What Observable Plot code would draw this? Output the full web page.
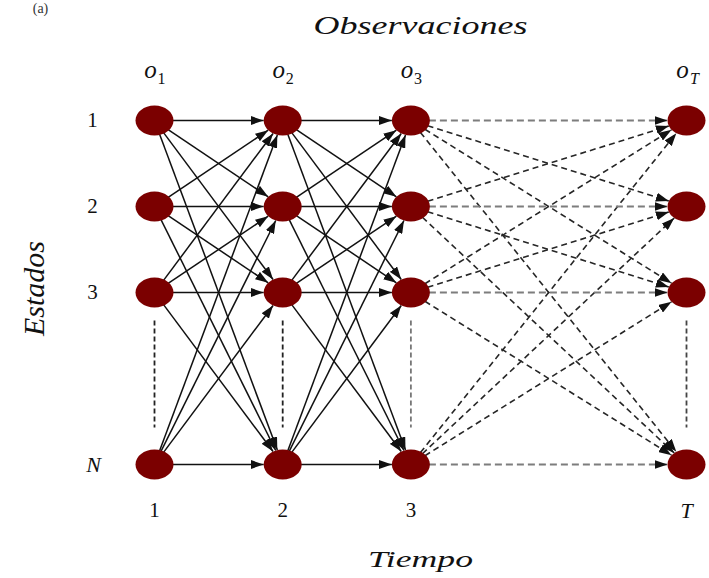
<!DOCTYPE html>
<html>
<head>
<meta charset="utf-8">
<script src="https://cdn.jsdelivr.net/npm/d3@7"></script>
<script src="https://cdn.jsdelivr.net/npm/@observablehq/plot@0.6"></script>
<style>
  html, body { margin: 0; padding: 0; background: #fff; }
</style>
</head>
<body>
<div id="chart"></div>
<script>
// ---- data ----
const timeLabels = ["1", "2", "3", "T"];        // bottom labels (time steps)
const timePos    = [1, 2, 3, 5.15];             // position of each time step (gap = omitted steps)
const stateLabels = ["1", "2", "3", "N"];       // left labels (states)
const statePos    = [1, 2, 3, 5];               // position of each state (gap = omitted states)
const obsSubs     = ["1", "2", "3", "T"];       // subscripts of o_t
const titleTop = "Observaciones";
const titleBottom = "Tiempo";
const titleLeft = "Estados";
const panelTag = "(a)";

// ---- layout ----
const W = 709, H = 578;
const mL = 154, mR = 23, mT = 120, mB = 114;
const RX = 19, RY = 15;           // node ellipse radii (px)
const serif = "'Liberation Serif', 'Times New Roman', serif";

const [x0, x1] = d3.extent(timePos);
const [y0, y1] = d3.extent(statePos);
const kx = (W - mL - mR) / (x1 - x0);
const ky = (H - mT - mB) / (y1 - y0);

// ellipse boundary distance along unit vector
const rEll = (ux, uy) => 1 / Math.hypot(ux / RX, uy / RY);

// shorten a segment (data coords) by pixel insets at both ends
function seg(ax, ay, bx, by, inStart, inEnd) {
  const dx = (bx - ax) * kx, dy = (by - ay) * ky;
  const L = Math.hypot(dx, dy), ux = dx / L, uy = dy / L;
  const s = typeof inStart === "function" ? inStart(ux, uy) : inStart;
  const e = typeof inEnd === "function" ? inEnd(ux, uy) : inEnd;
  return {
    x1: ax + ux * s / kx, y1: ay + uy * s / ky,
    x2: bx - ux * e / kx, y2: by - uy * e / ky
  };
}

// transitions between consecutive time columns
const edges = [];
for (let c = 0; c < timePos.length - 1; ++c) {
  for (let i = 0; i < statePos.length; ++i) {
    for (let j = 0; j < statePos.length; ++j) {
      const s = seg(timePos[c], statePos[i], timePos[c + 1], statePos[j],
                    (ux, uy) => rEll(ux, uy) - 1, (ux, uy) => rEll(ux, uy));
      edges.push({...s, dashed: c === timePos.length - 2, horiz: i === j});
    }
  }
}

// vertical ellipsis lines between state 3 and N
const vColors = ["#222", "#222", "#777", "#444"];
const vlines = timePos.map((x, k) => {
  const s = seg(x, statePos[2], x, statePos[3], 28, 37);
  return {...s, stroke: vColors[k]};
});

// nodes
const nodes = [];
timePos.forEach(x => statePos.forEach(y => nodes.push({x, y})));

// custom ellipse symbol
const ellipse = {
  draw(ctx, size) {
    const r = Math.sqrt(size / Math.PI);
    const rx = r * RX / 17, ry = r * RY / 17, k = 0.5523;
    ctx.moveTo(rx, 0);
    ctx.bezierCurveTo(rx, ry * k, rx * k, ry, 0, ry);
    ctx.bezierCurveTo(-rx * k, ry, -rx, ry * k, -rx, 0);
    ctx.bezierCurveTo(-rx, -ry * k, -rx * k, -ry, 0, -ry);
    ctx.bezierCurveTo(rx * k, -ry, rx, -ry * k, rx, 0);
    ctx.closePath();
  }
};

const isDigit = s => /^\d+$/.test(s);
const stateData = stateLabels.map((label, i) => ({label, y: statePos[i]}));
const timeData = timeLabels.map((label, i) => ({label, x: timePos[i]}));
const obsData = obsSubs.map((sub, i) => ({sub, x: timePos[i]}));

const txt = {fill: "#111", lineAnchor: "middle", fontFamily: serif};

const plot = Plot.plot({
  width: W, height: H,
  marginLeft: mL, marginRight: mR, marginTop: mT, marginBottom: mB,
  x: {domain: [x0, x1], axis: null},
  y: {domain: [y0, y1], reverse: true, axis: null},
  style: {background: "#fff", fontFamily: serif},
  marks: [
    // vertical dashed ellipses
    Plot.link(vlines, {x1: "x1", y1: "y1", x2: "x2", y2: "y2", stroke: "stroke",
      strokeWidth: 1.8, strokeDasharray: "5,3"}),
    // solid transitions
    Plot.link(edges.filter(d => !d.dashed), {x1: "x1", y1: "y1", x2: "x2", y2: "y2",
      stroke: "#111", strokeWidth: 1.5, markerEnd: "arrow"}),
    // dashed diagonal transitions
    Plot.link(edges.filter(d => d.dashed && !d.horiz), {x1: "x1", y1: "y1", x2: "x2", y2: "y2",
      stroke: "#262626", strokeWidth: 1.6, strokeDasharray: "6,4", markerEnd: "arrow"}),
    // dashed horizontal transitions
    Plot.link(edges.filter(d => d.dashed && d.horiz), {x1: "x1", y1: "y1", x2: "x2", y2: "y2",
      stroke: "#7d7d7d", strokeWidth: 2, strokeDasharray: "7,4", markerEnd: "arrow"}),
    // nodes
    Plot.dot(nodes, {x: "x", y: "y", r: 17, symbol: ellipse, fill: "#7b0000", stroke: "none"}),
    // state labels
    Plot.text(stateData.filter(d => isDigit(d.label)), {...txt, y: "y", text: "label", frameAnchor: "left",
      textAnchor: "middle", dx: -62, fontSize: 21}),
    Plot.text(stateData.filter(d => !isDigit(d.label)), {...txt, y: "y", text: "label", frameAnchor: "left",
      textAnchor: "middle", dx: -61, fontSize: 22, fontStyle: "italic"}),
    // time labels
    Plot.text(timeData.filter(d => isDigit(d.label)), {...txt, x: "x", text: "label", frameAnchor: "bottom",
      dy: 46, fontSize: 21}),
    Plot.text(timeData.filter(d => !isDigit(d.label)), {...txt, x: "x", text: "label", frameAnchor: "bottom",
      dy: 46, fontSize: 22, fontStyle: "italic"}),
    // observation labels o_t
    Plot.text(obsData, {...txt, x: "x", text: () => "o", frameAnchor: "top", dx: -4, dy: -51,
      fontSize: 25, fontStyle: "italic"}),
    Plot.text(obsData.filter(d => isDigit(d.sub)), {...txt, x: "x", text: "sub", frameAnchor: "top", dx: 7, dy: -42,
      fontSize: 16}),
    Plot.text(obsData.filter(d => !isDigit(d.sub)), {...txt, x: "x", text: "sub", frameAnchor: "top", dx: 8, dy: -42,
      fontSize: 16, fontStyle: "italic"}),
    // titles
    Plot.text([titleTop], {...txt, text: d => d, frameAnchor: "top", dy: -95, fontSize: 25,
      fontStyle: "italic", className: "stretch-top"}),
    Plot.text([titleBottom], {...txt, text: d => d, frameAnchor: "bottom", dy: 95, fontSize: 23,
      fontStyle: "italic", className: "stretch-bottom"}),
    Plot.text([titleLeft], {...txt, text: d => d, frameAnchor: "left", textAnchor: "middle",
      dx: -120, dy: -4, rotate: -90, fontSize: 30, fontStyle: "italic"}),
    Plot.text([panelTag], {...txt, text: d => d, frameAnchor: "top-left", textAnchor: "middle",
      dx: -114, dy: -112, fontSize: 14, fill: "#333"})
  ]
});

// filled triangular arrowheads
plot.querySelectorAll("marker").forEach(m => {
  m.setAttribute("viewBox", "-13 -4.5 13 9");
  m.setAttribute("markerWidth", 13);
  m.setAttribute("markerHeight", 9);
  m.setAttribute("markerUnits", "userSpaceOnUse");
  m.setAttribute("refX", 0);
  m.setAttribute("refY", 0);
  m.setAttribute("fill", "#111");
  m.setAttribute("stroke", "none");
  while (m.firstChild) m.removeChild(m.firstChild);
  const p = document.createElementNS("http://www.w3.org/2000/svg", "path");
  p.setAttribute("d", "M-13,-4.5L0,0L-13,4.5Z");
  m.appendChild(p);
});

// horizontally widened titles (as in the reference)
const stretch = (cls, len) => plot.querySelectorAll(`.${cls} text`).forEach(t => {
  t.setAttribute("textLength", len);
  t.setAttribute("lengthAdjust", "spacingAndGlyphs");
});
stretch("stretch-top", 214);
stretch("stretch-bottom", 105);

document.getElementById("chart").appendChild(plot);
</script>
</body>
</html>
